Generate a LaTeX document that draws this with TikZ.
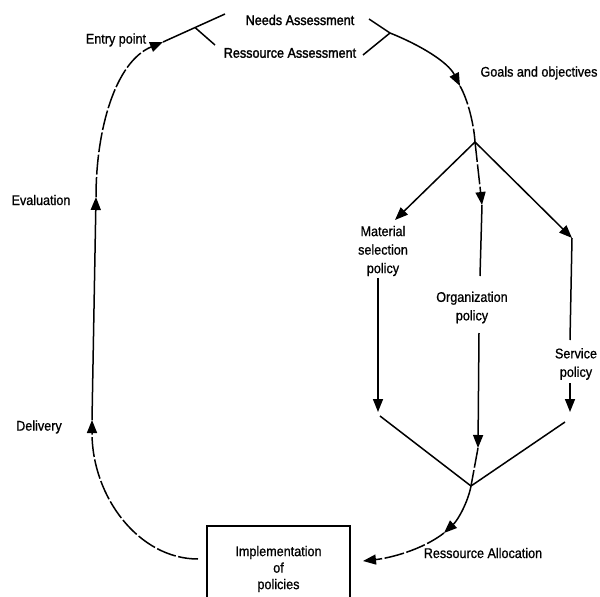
\documentclass[tikz,border=0pt]{standalone}
\usepackage{fontspec}
\setmainfont{Liberation Sans}[FakeStretch=0.9, FakeBold=0.9]
\newfontfamily\headfont{Liberation Sans}[FakeStretch=0.9, FakeBold=1.8]
\usetikzlibrary{arrows.meta}

\begin{document}
\begin{tikzpicture}[x=1pt,y=-1pt,
  line width=1.5pt,
  tip/.style={-{Triangle[length=13pt,width=10pt]}},
  broken/.style={dash pattern=on 20pt off 2.5pt},
  lbl/.style={font=\fontsize{14}{18.5}\selectfont, inner sep=1pt, align=center},
  head/.style={lbl, font=\headfont\fontsize{14}{18.5}\selectfont},
]
\useasboundingbox (0,0) rectangle (600,597);
\clip (0,0) rectangle (600,597);

% labels
\node[head] (needs) at (300,20) {Needs Assessment};
\node[head] (res)   at (290,53) {Ressource Assessment};
\node[lbl] (entry) at (116,40) {Entry point};
\node[lbl] (goals) at (539,73) {Goals and objectives};
\node[lbl] (eval)  at (41,200) {Evaluation};
\node[lbl] (deliv) at (39,427) {Delivery};
\node[lbl] (mat)   at (383,251) {Material\\selection\\policy};
\node[lbl] (org)   at (472,307.5) {Organization\\policy};
\node[lbl] (serv)  at (576,364) {Service\\policy};
\node[lbl] (alloc) at (483,553) {Ressource Allocation};
\node[lbl, draw, line width=1.3pt, minimum width=143pt, minimum height=86pt,
      font=\fontsize{14}{16.5}\selectfont] (impl) at (278.5,569)
      {Implementation\\of\\policies};

% junctions and arrow ends
\coordinate (loopStart) at (198,559);
\coordinate (delivTip)  at (92,420);
\coordinate (evalTip)   at (96,197);
\coordinate (entryTip)  at (163,42);
\coordinate (needsIn)   at (225,14);
\coordinate (split)     at (195,27.5);
\coordinate (resIn)     at (215,45);
\coordinate (needsOut)  at (369,19);
\coordinate (resOut)    at (363,55);
\coordinate (merge)     at (390,33);
\coordinate (goalsTip)  at (460,86);
\coordinate (fork)      at (475,142);
\coordinate (matTip)    at (395,220);
\coordinate (orgTip)    at (482,205);
\coordinate (servTip)   at (572,238);
\coordinate (matEnd)    at (378,412);
\coordinate (orgHi)     at (480,276);
\coordinate (orgLo)     at (479,333);
\coordinate (orgEnd)    at (478,448);
\coordinate (servHi)    at (570,340);
\coordinate (servLo)    at (570,383);
\coordinate (servEnd)   at (570,412);
\coordinate (matFoot)   at (380,416);
\coordinate (servFoot)  at (565,422);
\coordinate (join)      at (471,486);
\coordinate (allocTip)  at (444,533);
\coordinate (implTip)   at (363,561);

% feedback loop on the left
\draw[broken,tip] (loopStart) .. controls (139,559) and (92,497) .. (delivTip);
\draw[tip] (delivTip) -- (evalTip);
\draw[broken,tip] (evalTip) .. controls (96,130) and (115,62) .. (entryTip);
\draw (entryTip) -- (needsIn);
\draw (split) -- (resIn);

% assessments into goals
\draw (needsOut) -- (merge);
\draw (resOut) -- (merge);
\draw[tip] (merge) .. controls (420,45) and (448,62) .. (goalsTip);
\draw[broken] (goalsTip) .. controls (468,100) and (474,125) .. (fork);

% the three policies
\draw[tip] (fork) -- (matTip);
\draw[broken,tip] (fork) -- (orgTip);
\draw[tip] (fork) -- (servTip);
\draw[tip] (mat.south -| matEnd) -- (matEnd);
\draw (orgTip) -- (orgHi);
\draw[tip] (orgLo) -- (orgEnd);
\draw (servTip) -- (servHi);
\draw[tip] (servLo) -- (servEnd);

% allocation back to implementation
\draw (matFoot) -- (join);
\draw (servFoot) -- (join);
\draw[broken] (orgEnd) -- (join);
\draw[tip] (join) .. controls (468,502) and (458,520) .. (allocTip);
\draw[broken,tip] (allocTip) .. controls (422,550) and (390,558) .. (implTip);
\end{tikzpicture}
\end{document}
